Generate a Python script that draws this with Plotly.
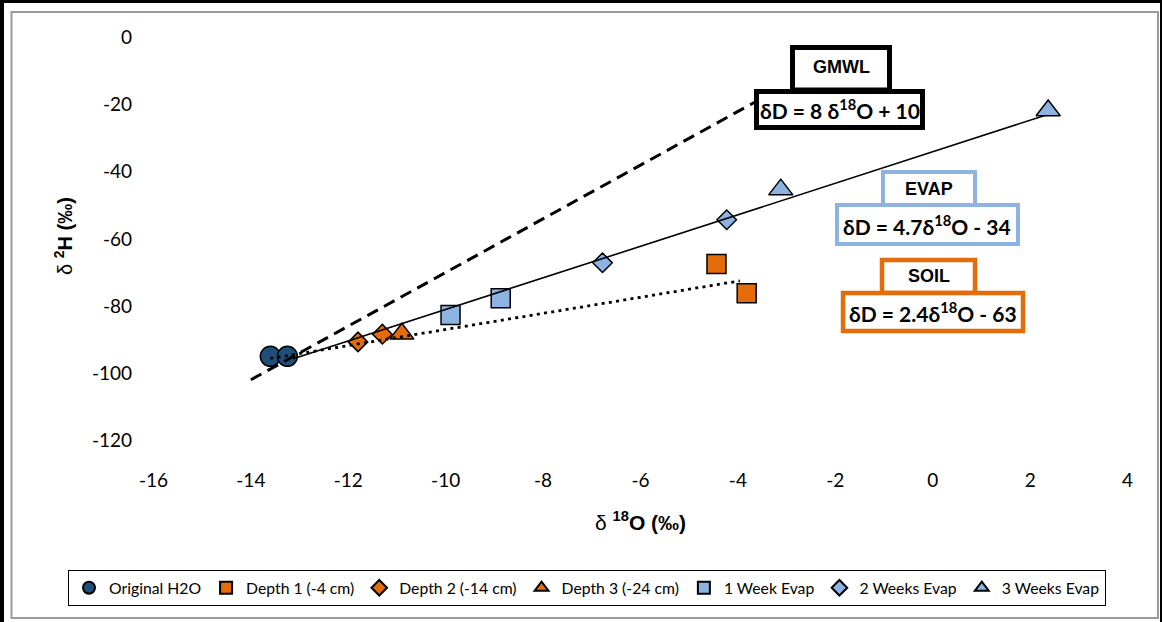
import plotly.graph_objects as go

# ---------------- data ----------------
orig_x = [-13.6, -13.25]
orig_y = [-95.0, -95.0]
d1_x = [-4.44, -3.82]
d1_y = [-67.5, -76.2]
d2_x = [-11.8, -11.3]
d2_y = [-90.7, -88.4]
d3_x = [-10.9]
d3_y = [-88.3]
w1_x = [-9.9, -8.87]
w1_y = [-82.7, -77.7]
w2_x = [-6.78, -4.23]
w2_y = [-67.1, -54.3]
w3_x = [-3.12, 2.37]
w3_y = [-45.3, -21.7]

# line equations (slope, intercept) and x extents
gmwl_coef = (8.0, 10.0)
gmwl_xr = [-14.0, -3.5]
evap_coef = (4.7, -34.0)
evap_xr = [-13.13, 2.3]
soil_coef = (2.4, -63.0)
soil_xr = [-13.6, -3.96]

x_ticks = [-16, -14, -12, -10, -8, -6, -4, -2, 0, 2, 4]
y_ticks = [0, -20, -40, -60, -80, -100, -120]

# ---------------- styling ----------------
DARK_BLUE = "#1F4E79"
ORANGE = "#E46C0A"
LIGHT_BLUE = "#8DB3E2"
EDGE = dict(color="black", width=1.5)

# plot area in pixels
ML, MR, MT, MB = 151, 32, 36, 155
FW, FH = 1162, 622
PW, PH = FW - ML - MR, FH - MT - MB


def px(x):
    return (x - ML) / PW


def py(y):
    return (FH - MB - y) / PH


def line_pts(coef, xr):
    return xr, [coef[0] * v + coef[1] for v in xr]


fig = go.Figure()

series = [
    ("Original H2O", orig_x, orig_y, "circle", 20, DARK_BLUE),
    ("Depth 1 (-4 cm)", d1_x, d1_y, "square", 19, ORANGE),
    ("Depth 2 (-14 cm)", d2_x, d2_y, "diamond", 15, ORANGE),
    ("Depth 3 (-24 cm)", d3_x, d3_y, "triangle-up", 21, ORANGE),
    ("1 Week Evap", w1_x, w1_y, "square", 19, LIGHT_BLUE),
    ("2 Weeks Evap", w2_x, w2_y, "diamond", 15, LIGHT_BLUE),
    ("3 Weeks Evap", w3_x, w3_y, "triangle-up", 21, LIGHT_BLUE),
]
for name, xs, ys, sym, size, col in series:
    fig.add_trace(go.Scatter(
        x=xs, y=ys, mode="markers", name=name,
        marker=dict(symbol=sym, size=size, color=col, line=EDGE),
    ))

gx, gy = line_pts(gmwl_coef, gmwl_xr)
fig.add_trace(go.Scatter(x=gx, y=gy, mode="lines", showlegend=False, hoverinfo="skip",
                         line=dict(color="black", width=3, dash="12px,7px")))
ex, ey = line_pts(evap_coef, evap_xr)
fig.add_trace(go.Scatter(x=ex, y=ey, mode="lines", showlegend=False, hoverinfo="skip",
                         line=dict(color="black", width=1.6)))
sx, sy = line_pts(soil_coef, soil_xr)
fig.add_trace(go.Scatter(x=sx, y=sy, mode="lines", showlegend=False, hoverinfo="skip",
                         line=dict(color="black", width=2.8, dash="3px,4.3px")))

shapes = []


def rect(x0, y0, x1, y1, color, width, fill="white"):
    shapes.append(dict(type="rect", xref="paper", yref="paper",
                       x0=px(x0), x1=px(x1), y0=py(y1), y1=py(y0),
                       line=dict(color=color, width=width), fillcolor=fill, layer="above"))


def hline(x0, x1, y, color, width):
    shapes.append(dict(type="line", xref="paper", yref="paper",
                       x0=px(x0), x1=px(x1), y0=py(y), y1=py(y),
                       line=dict(color=color, width=width)))


def vline(x, y0, y1, color, width):
    shapes.append(dict(type="line", xref="paper", yref="paper",
                       x0=px(x), x1=px(x), y0=py(y0), y1=py(y1),
                       line=dict(color=color, width=width)))


# outer frame
hline(0, FW, 1.5, "black", 3)
vline(2, 0, FH, "black", 4)
vline(1161, 0, FH, "black", 2)
rect(11.5, 12, 1158, 618, "#9a9a9a", 2, fill="rgba(0,0,0,0)")

# annotation boxes
rect(792.5, 47.5, 889.5, 90, "black", 5)
rect(756.5, 91.5, 922.5, 127.5, "black", 5)
rect(883, 172, 975, 205, LIGHT_BLUE, 4)
rect(837, 205, 1018, 244, LIGHT_BLUE, 4)
rect(882, 260, 975, 293, ORANGE, 4.5)
rect(843, 293, 1023, 331, ORANGE, 4.5)

annotations = []


def text(x, y, s, size, family="Lato", angle=0):
    annotations.append(dict(x=px(x), y=py(y), xref="paper", yref="paper", text=s,
                            showarrow=False, xanchor="center", yanchor="middle",
                            textangle=angle,
                            font=dict(family=family, size=size, color="black")))


text(841, 67, "<b>GMWL</b>", 18, "Liberation Sans")
text(840, 109, "<b>δD = 8 δ<sup>18</sup>O + 10</b>", 21)
text(929, 189, "<b>EVAP</b>", 18, "Liberation Sans")
text(927, 225, "<b>δD = 4.7δ<sup>18</sup>O - 34</b>", 21)
text(929, 276, "<b>SOIL</b>", 18, "Liberation Sans")
text(933, 312, "<b>δD = 2.4δ<sup>18</sup>O - 63</b>", 21)

# axis titles
text(640, 521, "δ <b><sup>18</sup>O (‰)</b>", 21, "Liberation Sans")
text(63, 236, "δ <b><sup>2</sup>H (‰)</b>", 20, "Liberation Sans", angle=-90)

fig.update_layout(
    width=FW, height=FH,
    margin=dict(l=ML, r=MR, t=MT, b=MB, pad=0, autoexpand=False),
    paper_bgcolor="white", plot_bgcolor="white",
    font=dict(family="Lato", color="black"),
    shapes=shapes, annotations=annotations,
    showlegend=True,
    legend=dict(orientation="h",
                x=px(68), xanchor="left", y=py(570), yanchor="top",
                bordercolor="black", borderwidth=1, bgcolor="white",
                font=dict(family="Lato", size=15.75, color="black"),
                itemsizing="constant", itemclick=False, itemdoubleclick=False,
                tracegroupgap=0),
    xaxis=dict(range=[-16.05, 4.05], tickvals=x_ticks, ticktext=[str(v) for v in x_ticks],
               showgrid=False, zeroline=False, showline=False, ticks="",
               tickfont=dict(family="Lato", size=19, color="black"), fixedrange=True),
    yaxis=dict(range=[-128.0, 0.5], tickvals=y_ticks, ticktext=[str(v) for v in y_ticks],
               showgrid=False, zeroline=False, showline=False, ticks="",
               ticklabelstandoff=18,
               tickfont=dict(family="Lato", size=19, color="black"), fixedrange=True),
)

fig.write_html("out.html", config={"displayModeBar": False})
